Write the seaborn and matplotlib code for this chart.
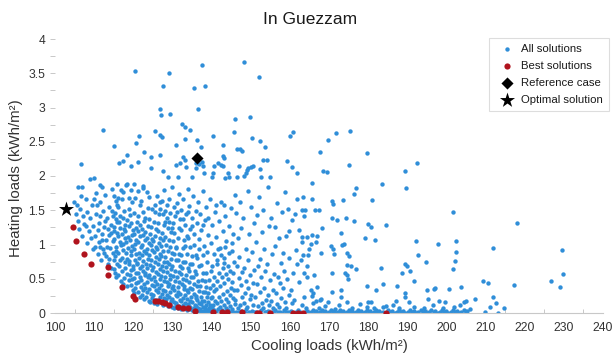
import matplotlib
matplotlib.use("Agg")
import matplotlib.pyplot as plt
import pandas as pd
import seaborn as sns
from matplotlib.ticker import MultipleLocator, FuncFormatter

# ---------------- data ----------------
# "All solutions" cloud, split by region: (cooling kWh/m2, heating kWh/m2)
upper_pts = [
    (120.4,3.53),(129.1,3.51),(127.5,3.31),(135.5,3.28),(137.5,3.62),(138.3,3.31),(148.4,3.66),(152.0,3.44),
    (136.6,2.98),(126.8,2.98),(127.0,2.89),(129.5,2.90),(112.2,2.67),(115.1,2.44),(121.5,2.59),(120.6,2.48),
    (125.5,2.65),(126.7,2.60),(127.4,2.57),(132.4,2.76),(133.3,2.72),(134.6,2.67),(133.2,2.54),(136.3,2.52),
    (137.2,2.43),(140.3,2.59),(130.8,2.45),(145.9,2.83),(145.8,2.64),(149.8,2.86),(150.3,2.55),(152.4,2.51),
    (153.7,2.43),(143.0,2.45),(146.5,2.40),(147.2,2.39),(147.9,2.37),(160.0,2.58),(160.9,2.64),(159.2,2.22),
    (160.5,2.13),(161.8,2.05),(106.7,2.18),(109.0,1.95),(110.0,1.97),(116.4,2.19),(117.4,2.22),(118.3,2.31),
    (119.4,2.14),(121.3,2.20),(122.7,2.35),(124.4,2.28),(124.4,2.11),(126.7,2.30),(127.5,2.07),(128.9,1.98),
    (130.8,2.16),(131.9,2.19),(132.7,2.28),(133.1,2.24),(131.3,1.99),(133.5,2.13),(134.9,1.99),(136.0,2.19),
    (136.1,2.12),(136.8,2.17),(137.6,2.21),(137.7,2.15),(138.1,2.05),(140.5,2.15),(141.6,2.19),(142.5,2.16),
    (142.9,2.14),(140.1,1.99),(140.4,2.05),(143.0,2.29),(143.3,2.26),(144.3,2.04),(144.5,1.99),(143.5,1.97),
    (146.9,2.14),(148.3,2.00),(148.8,2.05),(149.1,2.09),(149.4,2.11),(150.1,2.13),(150.7,2.14),(152.4,2.10),
    (153.1,2.24),(154.1,2.24),(152.6,1.98),(155.0,1.98),(146.6,1.99),(105.8,1.84),(107.0,1.84),(111.5,1.87),
    (112.0,1.84),(115.8,1.88),(118.3,1.89),(122.5,1.85),
]
left_pts = [
    (104.8,1.62),(105.3,1.44),(105.9,1.35),(106.4,1.52),(106.2,1.22),(106.9,1.13),(107.4,1.30),(107.8,1.66),
    (108.1,1.47),(108.3,1.02),(108.7,1.19),(108.9,1.38),(109.4,1.58),(109.6,0.93),(109.8,1.27),(110.1,1.12),
    (110.4,1.75),(110.6,1.44),(110.9,0.86),(111.2,1.03),(111.3,1.31),(111.6,1.62),(111.8,0.78),(112.0,1.16),
    (112.2,0.94),(112.3,1.49),(112.6,1.25),(112.8,1.72),(113.0,0.83),(113.1,1.06),(113.4,1.38),(113.5,0.72),
    (113.7,1.14),(113.9,1.55),(114.1,0.95),(114.2,1.28),(114.4,0.66),(114.6,1.81),(114.7,1.05),(114.9,1.42),
    (115.1,0.78),(115.2,1.19),(115.4,0.59),(115.6,1.63),(115.7,0.91),(115.9,1.33),(110.3,0.97),(111.0,1.21),
    (111.9,1.07),(112.5,0.88),(113.3,0.97),(113.8,0.79),(114.3,1.17),(114.8,0.87),(112.9,1.34),(111.5,1.41),
    (110.8,1.58),(109.2,1.09),(108.0,1.27),(107.1,1.41),(106.6,1.71),(105.6,1.57),(109.9,1.66),(111.4,0.96),
    (113.6,1.22),(114.5,1.49),
]
core_a_pts = [
    (115.6,0.52),(115.1,0.64),(115.9,0.71),(115.3,0.83),(115.7,0.97),(115.2,1.08),(115.8,1.17),(115.0,1.26),
    (115.5,1.37),(115.4,1.46),(115.9,1.58),(115.2,1.71),
    (116.8,0.47),(116.2,0.56),(116.4,0.68),(116.7,0.77),(116.0,0.88),(116.9,0.99),(116.5,1.04),(116.1,1.13),
    (116.6,1.24),(116.3,1.33),(116.7,1.41),(116.1,1.55),(116.9,1.79),
    (117.4,0.43),(117.7,0.51),(117.0,0.62),(117.9,0.74),(117.2,0.81),(117.5,0.92),(117.3,1.01),(117.8,1.09),
    (117.1,1.16),(117.6,1.22),(117.9,1.29),(117.3,1.38),(117.7,1.49),(117.0,1.66),
    (118.3,0.39),(118.9,0.48),(118.5,0.57),(118.0,0.66),(118.8,0.72),(118.4,0.79),(118.1,0.87),(118.7,0.95),
    (118.2,1.03),(118.6,1.11),(118.0,1.19),(118.9,1.27),(118.4,1.36),(118.8,1.52),(118.2,1.87),
    (119.9,0.34),(119.3,0.41),(119.6,0.49),(119.1,0.55),(119.4,0.63),(119.8,0.69),(119.0,0.76),(119.5,0.84),
    (119.3,0.91),(119.7,0.98),(119.2,1.06),(119.6,1.14),(119.9,1.21),(119.4,1.31),(119.1,1.43),(119.7,1.62),
    (120.1,0.29),(120.5,0.36),(120.8,0.44),(120.2,0.51),(120.6,0.58),(120.0,0.64),(120.9,0.71),(120.4,0.78),
    (120.7,0.86),(120.3,0.93),(120.5,1.01),(120.8,1.07),(120.1,1.15),(120.6,1.24),(120.9,1.33),(120.2,1.46),
    (120.4,1.68),
    (121.6,0.23),(121.1,0.31),(121.9,0.38),(121.3,0.45),(121.7,0.53),(121.2,0.59),(121.8,0.66),(121.0,0.73),
    (121.5,0.81),(121.4,0.88),(121.9,0.96),(121.2,1.03),(121.6,1.12),(121.1,1.19),(121.7,1.28),(121.3,1.41),
    (121.8,1.57),
    (122.8,0.21),(122.2,0.27),(122.4,0.34),(122.7,0.42),(122.0,0.48),(122.9,0.55),(122.5,0.62),(122.1,0.69),
    (122.6,0.76),(122.3,0.84),(122.7,0.91),(122.1,0.99),(122.9,1.06),(122.4,1.14),(122.2,1.23),(122.8,1.34),
    (122.5,1.47),(122.0,1.63),
    (123.9,0.18),(123.3,0.24),(123.6,0.31),(123.1,0.37),(123.4,0.45),(123.8,0.52),(123.0,0.58),(123.5,0.66),
    (123.3,0.72),(123.7,0.79),(123.2,0.87),(123.6,0.94),(123.9,1.02),(123.4,1.09),(123.1,1.18),(123.7,1.27),
    (123.0,1.39),(123.8,1.54),
    (124.3,0.16),(124.9,0.22),(124.5,0.28),(124.0,0.35),(124.8,0.41),(124.4,0.49),(124.1,0.56),(124.7,0.63),
    (124.2,0.70),(124.6,0.77),(124.0,0.85),(124.9,0.92),(124.4,1.00),(124.8,1.08),(124.2,1.16),(124.5,1.26),
    (124.1,1.37),(124.7,1.52),
]
core_b_pts = [
    (125.4,0.14),(125.7,0.19),(125.0,0.26),(125.9,0.33),(125.2,0.39),(125.5,0.46),(125.3,0.53),(125.8,0.60),
    (125.1,0.67),(125.6,0.74),(125.9,0.82),(125.3,0.89),(125.7,0.97),(125.0,1.05),(125.5,1.13),(125.8,1.22),
    (125.2,1.33),(125.6,1.48),
    (126.1,0.13),(126.5,0.18),(126.8,0.24),(126.2,0.30),(126.6,0.37),(126.0,0.43),(126.9,0.50),(126.4,0.57),
    (126.7,0.64),(126.3,0.71),(126.5,0.79),(126.8,0.86),(126.1,0.94),(126.6,1.02),(126.9,1.10),(126.2,1.19),
    (126.4,1.31),(126.7,1.62),
    (127.6,0.11),(127.1,0.16),(127.9,0.22),(127.3,0.28),(127.7,0.34),(127.2,0.41),(127.8,0.47),(127.0,0.54),
    (127.5,0.61),(127.4,0.68),(127.9,0.75),(127.2,0.83),(127.6,0.90),(127.1,0.98),(127.7,1.07),(127.3,1.17),
    (127.8,1.29),(127.5,1.44),
    (128.8,0.10),(128.2,0.15),(128.4,0.20),(128.7,0.26),(128.0,0.32),(128.9,0.39),(128.5,0.45),(128.1,0.52),
    (128.6,0.60),(128.3,0.67),(128.7,0.74),(128.1,0.82),(128.9,0.91),(128.4,1.00),(128.2,1.11),(128.8,1.24),
    (128.5,1.39),
    (129.9,0.09),(129.3,0.13),(129.6,0.18),(129.1,0.24),(129.4,0.30),(129.8,0.36),(129.0,0.43),(129.5,0.49),
    (129.3,0.56),(129.7,0.64),(129.2,0.71),(129.6,0.79),(129.9,0.87),(129.4,0.96),(129.1,1.06),(129.7,1.18),
    (129.0,1.33),
    (130.3,0.08),(130.9,0.12),(130.5,0.16),(130.0,0.21),(130.8,0.27),(130.4,0.33),(130.1,0.40),(130.7,0.47),
    (130.2,0.54),(130.6,0.61),(130.0,0.69),(130.9,0.77),(130.4,0.86),(130.8,0.95),(130.2,1.05),(130.5,1.17),
    (130.1,1.31),
    (131.4,0.07),(131.7,0.10),(131.0,0.14),(131.9,0.19),(131.2,0.25),(131.5,0.31),(131.3,0.38),(131.8,0.45),
    (131.1,0.52),(131.6,0.60),(131.9,0.68),(131.3,0.77),(131.7,0.86),(131.0,0.97),(131.5,1.09),(131.8,1.24),
    (132.1,0.06),(132.5,0.09),(132.8,0.12),(132.2,0.17),(132.6,0.22),(132.0,0.28),(132.9,0.35),(132.4,0.42),
    (132.7,0.49),(132.3,0.57),(132.5,0.65),(132.8,0.74),(132.1,0.84),(132.6,0.95),(132.9,1.07),(132.2,1.21),
    (133.6,0.05),(133.1,0.08),(133.9,0.11),(133.3,0.15),(133.7,0.20),(133.2,0.26),(133.8,0.33),(133.0,0.40),
    (133.5,0.48),(133.4,0.56),(133.9,0.65),(133.2,0.75),(133.6,0.86),(133.1,0.98),(133.7,1.13),
    (134.9,0.04),(134.3,0.06),(134.6,0.09),(134.1,0.13),(134.4,0.18),(134.8,0.24),(134.0,0.30),(134.5,0.37),
    (134.3,0.45),(134.7,0.53),(134.2,0.62),(134.6,0.72),(134.9,0.83),(134.4,0.96),(134.1,1.10),
]
core_c_pts = [
    (135.8,0.03),(135.2,0.05),(135.4,0.08),(135.7,0.12),(135.0,0.16),(135.9,0.22),(135.5,0.28),(135.1,0.35),
    (135.6,0.43),(135.3,0.52),(135.7,0.61),(135.1,0.72),(135.9,0.85),(135.4,1.00),
    (136.3,0.02),(136.9,0.04),(136.5,0.07),(136.0,0.10),(136.8,0.14),(136.4,0.19),(136.1,0.25),(136.7,0.32),
    (136.2,0.39),(136.6,0.47),(136.0,0.57),(136.9,0.68),(136.4,0.80),(136.8,0.94),
    (137.4,0.02),(137.7,0.03),(137.0,0.06),(137.9,0.09),(137.2,0.13),(137.5,0.18),(137.3,0.24),(137.8,0.31),
    (137.1,0.39),(137.6,0.48),(137.9,0.58),(137.3,0.70),(137.7,0.85),
    (138.1,0.01),(138.5,0.03),(138.8,0.05),(138.2,0.08),(138.6,0.12),(138.0,0.17),(138.9,0.23),(138.4,0.30),
    (138.7,0.38),(138.3,0.47),(138.5,0.59),(138.8,0.74),
    (139.6,0.01),(139.1,0.02),(139.9,0.04),(139.3,0.07),(139.7,0.11),(139.2,0.16),(139.8,0.22),(139.0,0.29),
    (139.5,0.37),(139.4,0.48),(139.9,0.62),
    (140.9,0.01),(140.3,0.03),(140.6,0.05),(140.1,0.08),(140.4,0.12),(140.8,0.17),(140.0,0.24),(140.5,0.32),
    (140.3,0.41),(140.7,0.53),(140.2,0.68),
]
upper_core_pts = [
    (125.6,1.58),(126.1,1.71),(126.9,1.52),(127.3,1.63),(127.8,1.79),(128.2,1.49),(128.7,1.58),(129.1,1.67),
    (129.5,1.46),(129.9,1.84),(130.3,1.55),(130.7,1.42),(131.2,1.61),(131.6,1.74),(131.9,1.37),(132.3,1.50),
    (132.8,1.66),(133.2,1.29),(133.5,1.44),(133.9,1.81),(134.2,1.56),(134.6,1.23),(134.9,1.38),(135.3,1.71),
    (135.6,1.15),(135.9,1.49),(136.2,1.32),(136.5,1.62),(136.8,1.08),(137.1,1.44),(137.4,1.21),(137.7,1.78),
    (138.0,0.98),(138.3,1.36),(138.6,1.55),(138.9,0.89),(139.2,1.14),(139.5,1.67),(139.8,1.02),(140.1,1.29),
    (140.5,0.86),(140.8,1.48),(141.1,1.11),(141.4,0.77),(141.8,1.34),(142.1,0.95),(142.4,1.62),(142.8,1.19),
    (143.1,0.81),(143.5,1.41),(143.8,1.05),(144.2,0.69),(144.5,1.27),(144.9,1.53),(145.2,0.90),(145.6,1.16),
    (145.9,1.72),(124.1,1.69),(123.4,1.77),(122.6,1.82),(121.3,1.78),(120.3,1.88),(119.5,1.79),(118.9,1.68),
    (117.3,1.76),(116.2,1.68),(126.6,1.45),(128.1,1.33),(129.8,1.24),(131.1,1.48),(132.6,1.37),(134.1,1.47),
    (135.1,1.27),(137.9,1.28),(139.1,1.38),(141.2,1.57),(143.2,1.58),
]
mid_pts = [
    (141.2,0.02),(141.6,0.06),(141.4,0.14),(141.8,0.23),(141.1,0.35),(141.5,0.46),(141.9,0.58),(141.3,0.71),(141.7,0.93),
    (142.3,0.01),(142.7,0.04),(142.1,0.09),(142.5,0.18),(142.9,0.28),(142.2,0.39),(142.6,0.52),(142.8,0.66),(142.4,0.84),
    (143.4,0.02),(143.8,0.07),(143.2,0.12),(143.6,0.21),(143.9,0.32),(143.3,0.44),(143.7,0.57),(143.1,0.73),(143.5,0.97),
    (144.5,0.01),(144.1,0.05),(144.8,0.10),(144.3,0.16),(144.6,0.26),(144.9,0.37),(144.2,0.49),(144.7,0.62),(144.4,0.88),
    (145.6,0.02),(145.2,0.06),(145.9,0.13),(145.4,0.22),(145.7,0.33),(145.1,0.45),(145.5,0.58),(145.8,0.75),(145.3,1.02),
    (146.3,0.01),(146.7,0.08),(146.1,0.19),(146.5,0.34),(146.9,0.51),(146.4,0.69),(146.8,1.09),
    (147.6,0.03),(147.2,0.11),(147.8,0.24),(147.4,0.41),(147.9,0.60),(147.1,0.82),(147.5,1.24),
    (148.4,0.02),(148.8,0.06),(148.2,0.15),(148.6,0.29),(148.9,0.47),(148.3,0.66),(148.7,0.94),
    (149.5,0.01),(149.1,0.09),(149.7,0.21),(149.3,0.37),(149.9,0.55),(149.4,0.78),(149.6,1.15),
    (150.3,0.03),(150.7,0.12),(150.2,0.26),(150.6,0.44),(150.9,0.63),(150.4,0.89),(150.8,1.31),
    (151.4,0.02),(151.8,0.10),(151.2,0.23),(151.6,0.42),(151.9,0.68),(151.3,1.04),
    (152.5,0.04),(152.9,0.14),(152.3,0.31),(152.7,0.53),(152.4,0.79),(152.8,1.18),
    (153.6,0.01),(153.2,0.08),(153.8,0.19),(153.4,0.37),(153.7,0.61),(153.3,0.93),
    (154.3,0.03),(154.7,0.11),(154.5,0.27),(154.9,0.48),(154.2,0.72),(154.6,1.27),
    (155.4,0.02),(155.8,0.07),(155.2,0.17),(155.6,0.34),(155.9,0.57),(155.5,0.86),
    (156.3,0.04),(156.7,0.13),(156.5,0.29),(156.9,0.52),(156.2,0.98),
    (157.6,0.02),(157.2,0.09),(157.8,0.22),(157.4,0.44),(157.7,0.73),
    (158.4,0.05),(158.8,0.16),(158.2,0.36),(158.6,0.62),(158.9,1.12),
    (159.5,0.01),(159.1,0.07),(159.7,0.26),(159.3,0.49),(159.8,0.81),
    (160.3,0.03),(160.6,0.14),(160.2,0.33),(160.8,0.58),(160.5,1.36),
    (146.2,1.46),(147.3,1.62),(148.1,1.38),(149.2,1.78),(150.1,1.55),(151.5,1.43),(152.2,1.69),(153.1,1.50),
    (154.4,1.84),(155.3,1.39),(156.8,1.61),(157.9,1.47),(158.7,1.76),(159.6,1.52),(161.2,1.44),(161.9,1.66),
    (156.1,1.25),(157.3,1.09),(158.3,0.88),(159.9,1.19),(161.5,0.92),(162.3,1.21),(161.7,0.71),(162.4,0.45),
    (161.1,0.19),(162.1,0.05),(162.6,0.02),
]
zero_band_pts = [
    (163.8,0.01),(164.3,0.03),(164.9,0.00),(165.4,0.02),(165.9,0.05),(166.3,0.01),(166.8,0.03),(167.2,0.00),
    (167.7,0.02),(168.2,0.04),(168.6,0.01),(169.1,0.03),(169.5,0.00),(170.0,0.02),(170.4,0.05),(170.9,0.01),
    (171.3,0.03),(171.8,0.00),(172.2,0.02),(172.7,0.04),(173.1,0.01),(173.6,0.03),(174.0,0.00),(174.5,0.02),
    (175.0,0.05),(175.4,0.01),(175.9,0.03),(176.3,0.00),(176.8,0.02),(177.3,0.04),(177.7,0.01),(178.2,0.03),
    (178.6,0.00),(179.1,0.02),(179.6,0.05),(180.1,0.01),(180.5,0.03),(181.0,0.00),(181.4,0.02),(181.9,0.04),
    (182.3,0.01),(182.8,0.03),(183.3,0.00),(183.8,0.02),(185.2,0.04),(185.7,0.01),(186.2,0.03),(186.8,0.00),
    (187.3,0.02),(187.9,0.05),(188.4,0.01),(188.9,0.03),(189.5,0.00),(190.1,0.02),(190.6,0.04),(191.2,0.01),
    (191.7,0.03),(192.3,0.00),(192.8,0.02),(193.4,0.05),(193.9,0.01),(194.5,0.03),(195.0,0.00),(195.6,0.02),
    (196.1,0.04),(196.7,0.01),(197.2,0.03),(197.8,0.00),(198.3,0.02),(198.9,0.05),(199.4,0.01),(200.0,0.03),
    (200.5,0.00),(201.1,0.02),(201.6,0.04),(202.2,0.01),(202.7,0.03),(203.3,0.00),(203.8,0.02),(204.4,0.05),
    (204.9,0.01),(205.3,0.03),(141.0,0.00),(143.0,0.01),(145.0,0.00),(147.0,0.02),(148.9,0.00),(150.9,0.01),
    (152.0,0.00),(153.9,0.02),(156.0,0.00),(157.0,0.01),(158.0,0.00),(159.0,0.02),(160.9,0.00),(161.6,0.01),
    (163.2,0.12),(164.1,0.08),(166.0,0.14),(167.5,0.07),(169.0,0.10),(171.5,0.06),(172.5,0.12),(176.0,0.08),
    (177.8,0.13),(181.6,0.07),(184.6,0.10),(188.0,0.07),(191.8,0.09),(194.2,0.07),(196.5,0.11),(199.0,0.08),
    (202.0,0.09),(203.5,0.12),(206.0,0.06),(163.5,0.24),(166.8,0.17),
]
right_pts = [
    (171.7,2.63),(175.3,2.66),(169.7,2.52),(167.8,2.35),(179.6,2.34),(175.1,2.16),(192.4,2.19),(189.4,2.08),
    (168.4,2.08),(169.4,2.06),(165.7,1.90),(183.6,1.89),(189.7,1.82),(177.0,1.83),(176.5,1.73),(163.4,1.70),
    (165.6,1.67),(170.7,1.64),(170.9,1.59),(173.5,1.65),(181.1,1.65),(163.0,1.50),(163.9,1.50),(163.6,1.42),
    (166.3,1.51),(167.4,1.50),(170.7,1.38),(172.1,1.36),(174.4,1.38),(176.3,1.35),(201.7,1.47),(218.1,1.32),
    (180.0,1.30),(180.8,1.26),(184.6,1.28),(168.1,1.24),(163.0,1.11),(164.5,1.11),(165.7,1.14),(167.0,1.13),
    (179.1,1.10),(181.8,1.07),(173.0,1.17),(170.4,0.98),(171.1,0.93),(171.2,0.86),(173.2,0.99),(173.8,1.01),
    (163.0,1.04),(164.9,0.94),(164.7,0.85),(163.3,0.84),(165.5,1.01),(166.6,1.03),(167.9,0.88),(174.7,0.88),
    (175.1,0.83),(192.3,1.05),(192.8,0.84),(202.5,1.05),(202.4,0.89),(197.9,1.01),(194.8,0.75),(202.3,0.76),
    (201.6,0.64),(211.9,0.95),(217.3,0.41),(162.8,0.77),(164.5,0.68),(164.5,0.53),(166.2,0.55),(163.7,0.58),
    (170.8,0.58),(174.6,0.70),(175.7,0.69),(176.8,0.64),(174.0,0.58),(174.5,0.55),(174.9,0.50),(183.2,0.65),
    (189.5,0.71),(190.0,0.69),(190.8,0.62),(188.6,0.58),(191.6,0.46),(179.6,0.40),(183.8,0.43),(187.3,0.40),
    (182.1,0.33),(195.1,0.33),(196.8,0.35),(197.0,0.36),(200.6,0.35),(203.7,0.38),(209.3,0.46),(210.7,0.44),
    (211.8,0.23),(165.5,0.33),(165.8,0.29),(165.6,0.25),(170.7,0.30),(173.0,0.34),(173.0,0.24),(167.7,0.19),
    (168.0,0.21),(189.3,0.29),(189.3,0.24),(190.4,0.16),(167.0,0.38),(187.0,0.17),(195.3,0.20),(198.2,0.18),
    (199.7,0.16),(204.4,0.16),(205.0,0.18),(207.3,0.20),(211.2,0.09),(212.6,0.14),(213.3,0.00),(214.8,0.07),
    (180.0,0.16),(180.8,0.16),(179.6,0.09),(183.8,0.09),(186.3,0.12),(169.8,0.16),(174.7,0.16),(209.9,0.02),
    (229.5,0.92),(229.8,0.57),(226.8,0.46),(228.9,0.38),
]

# "Best solutions" (Pareto front)
best_cooling = [104.5, 105.3, 107.3, 109.2, 113.6, 113.6, 117.0, 119.9, 120.4, 125.5, 126.4, 127.3, 128.1,
                129.0, 131.5, 132.8, 134.1, 135.8, 140.4, 142.6, 143.9, 147.7, 151.5, 152.1, 154.9, 160.9,
                162.2, 163.4, 184.6]
best_heating = [1.26, 1.05, 0.86, 0.71, 0.67, 0.56, 0.38, 0.25, 0.20, 0.17, 0.17, 0.16, 0.14,
                0.12, 0.09, 0.08, 0.07, 0.03, 0.01, 0.01, 0.01, 0.01, 0.00, 0.00, 0.00, 0.00,
                0.00, 0.00, 0.00]
ref_cooling = [136.2]
ref_heating = [2.27]
opt_cooling = [102.9]
opt_heating = [1.52]

x_ticks = list(range(100, 241, 10))
y_ticks = [0, 0.5, 1, 1.5, 2, 2.5, 3, 3.5, 4]

# ---------------- build tables ----------------
cloud = [p for grp in (upper_pts, left_pts, core_a_pts, core_b_pts, core_c_pts,
                       upper_core_pts, mid_pts, zero_band_pts, right_pts) for p in grp]
all_df = pd.DataFrame(cloud, columns=["cooling", "heating"])
best_df = pd.DataFrame({"cooling": best_cooling, "heating": best_heating})
ref_df = pd.DataFrame({"cooling": ref_cooling, "heating": ref_heating})
opt_df = pd.DataFrame({"cooling": opt_cooling, "heating": opt_heating})

# ---------------- style ----------------
sns.set_theme(style="white")
plt.rcParams["font.family"] = ["Liberation Sans", "DejaVu Sans"]
TXT = "#1a1a1a"
GRID = "#c8c8c8"
BLUE = "#2f8ed8"
RED = "#b0131d"

W, H = 614, 354
fig = plt.figure(figsize=(W / 100, H / 100), dpi=100, facecolor="white")
ax = fig.add_axes([55 / W, (H - 313) / H, (603 - 55) / W, (313 - 39) / H])

sns.scatterplot(data=all_df, x="cooling", y="heating", color=BLUE, s=10, linewidth=0,
                ax=ax, label="All solutions", zorder=2)
sns.scatterplot(data=best_df, x="cooling", y="heating", color=RED, s=20, linewidth=0,
                ax=ax, label="Best solutions", zorder=3)
sns.scatterplot(data=ref_df, x="cooling", y="heating", color="black", marker="D", s=38,
                linewidth=0, ax=ax, label="Reference case", zorder=4)
sns.scatterplot(data=opt_df, x="cooling", y="heating", color="black", marker="*", s=130,
                linewidth=0, ax=ax, label="Optimal solution", zorder=4)

ax.set_xlim(100, 240)
ax.set_ylim(0, 4)
ax.set_xticks(x_ticks)
ax.set_yticks(y_ticks)
ax.yaxis.set_minor_locator(MultipleLocator(0.25))
ax.set_xticks([v + 5 for v in x_ticks[:-1]], minor=True)
ax.yaxis.set_major_formatter(FuncFormatter(lambda v, _: f"{v:g}"))
ax.tick_params(axis="y", which="both", direction="out", length=3.5, width=0.7, color=GRID,
               labelsize=8.7, labelcolor="#333333", pad=3.5, left=True)
ax.tick_params(axis="x", which="major", length=0, labelsize=8.7, labelcolor="#333333", pad=6.5,
               bottom=True)
ax.tick_params(axis="x", which="minor", direction="in", length=3, width=0.7, color=GRID, bottom=True)
for side in ("top", "right", "left"):
    ax.spines[side].set_visible(False)
ax.spines["bottom"].set_color(GRID)
ax.spines["bottom"].set_linewidth(0.8)
ax.set_xlabel("")
ax.set_ylabel("")

fig.text(310 / W, 1 - 20 / H, "In Guezzam", ha="center", va="center", fontsize=12.5, color=TXT)
fig.text(329 / W, 1 - 346 / H, "Cooling loads (kWh/m²)", ha="center", va="center",
         fontsize=10.8, color="#333333")
fig.text(16 / W, 1 - 178 / H, "Heating loads (kWh/m²)", ha="center", va="center",
         rotation=90, fontsize=10.8, color="#333333")

leg = ax.legend(loc="upper left", bbox_to_anchor=(489 / W, 1 - 38 / H),
                bbox_transform=fig.transFigure, fontsize=8.2, frameon=True, fancybox=False,
                borderaxespad=0, borderpad=0.55, labelspacing=0.6, handletextpad=0.3,
                handlelength=2.0)
leg.get_frame().set_edgecolor("#d5d5d5")
leg.get_frame().set_linewidth(0.8)
for t in leg.get_texts():
    t.set_color(TXT)

fig.savefig("out.png", dpi=100, facecolor="white")
